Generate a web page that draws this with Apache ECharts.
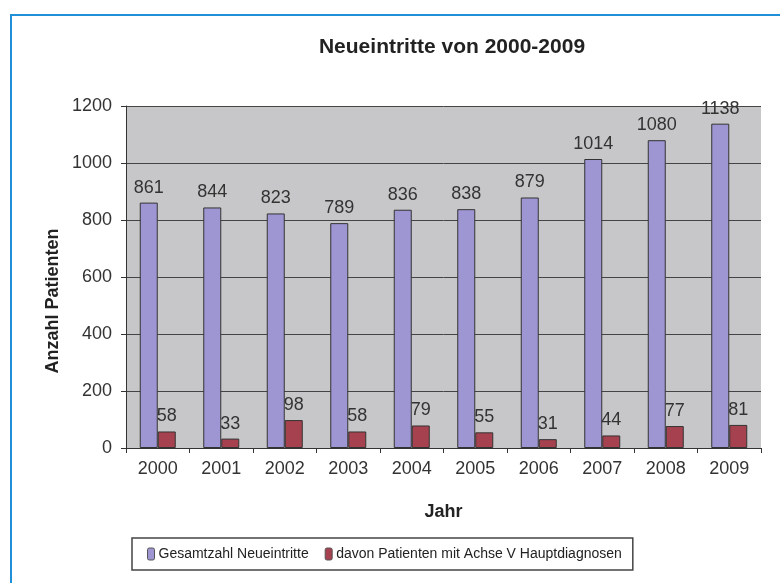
<!DOCTYPE html>
<html>
<head>
<meta charset="utf-8">
<script src="https://cdn.jsdelivr.net/npm/echarts@6/dist/echarts.min.js"></script>
<style>
  html, body { margin: 0; padding: 0; background: #fff; }
  #frame {
    position: absolute; left: 10px; top: 14px; width: 780px; height: 600px;
    border-top: 2px solid #1f8fd8; border-left: 2px solid #1f8fd8;
  }
  #chart { position: absolute; left: 0; top: 0; width: 780px; height: 583px; }
</style>
</head>
<body>
<div id="frame"></div>
<div id="chart"></div>
<script>
var years = ['2000', '2001', '2002', '2003', '2004', '2005', '2006', '2007', '2008', '2009'];
var gesamt = [861, 844, 823, 789, 836, 838, 879, 1014, 1080, 1138];
var achseV = [58, 33, 98, 58, 79, 55, 31, 44, 77, 81];
var yTicks = [0, 200, 400, 600, 800, 1000, 1200];

var chart = echarts.init(document.getElementById('chart'));
var font = 'Liberation Sans, Arial, sans-serif';

var option = {
  animation: false,
  textStyle: { fontFamily: font },
  title: {
    text: 'Neueintritte von 2000-2009',
    left: 447,
    textAlign: 'center',
    top: 32,
    textStyle: { fontSize: 21, fontWeight: 'bold', color: '#222', fontFamily: font }
  },
  grid: { left: 126, right: 19, top: 106, bottom: 135, show: true, backgroundColor: '#c7c7c9', borderWidth: 0 },
  legend: {
    left: 132, top: 538,
    padding: [9, 11, 9, 15],
    itemWidth: 7, itemHeight: 12, itemGap: 16,
    borderColor: '#444', borderWidth: 1.5,
    itemStyle: { borderColor: '#555', borderWidth: 1 },
    textStyle: { fontSize: 14, color: '#222', fontFamily: font, padding: [0, 0, 0, -1] },
    data: ['Gesamtzahl Neueintritte', 'davon Patienten mit Achse V Hauptdiagnosen']
  },
  xAxis: {
    type: 'category',
    data: years,
    name: 'Jahr',
    nameLocation: 'middle',
    nameGap: 55,
    nameTextStyle: { fontSize: 18, fontWeight: 'bold', color: '#222' },
    axisLine: { lineStyle: { color: '#333', width: 1 } },
    axisTick: { show: true, length: 5, lineStyle: { color: '#333' } },
    axisLabel: { fontSize: 18, color: '#333', margin: 12 }
  },
  yAxis: {
    type: 'value',
    min: yTicks[0], max: yTicks[yTicks.length - 1], interval: 200,
    axisLine: { show: true, lineStyle: { color: '#333', width: 1 } },
    axisTick: { show: true, length: 5, lineStyle: { color: '#333' } },
    axisLabel: { fontSize: 18, color: '#333', margin: 14, formatter: function (v) { return String(v); } },
    splitLine: { lineStyle: { color: '#444', width: 1 } }
  },
  graphic: [{
    type: 'text',
    x: 53, y: 301,
    rotation: Math.PI / 2,
    style: {
      text: 'Anzahl Patienten',
      font: 'bold 18px ' + font,
      fill: '#222',
      textAlign: 'center',
      textVerticalAlign: 'middle'
    }
  }],
  series: [
    {
      name: 'Gesamtzahl Neueintritte',
      type: 'bar',
      data: gesamt,
      barWidth: 18,
      barGap: '0%',
      itemStyle: { color: '#9d96d2', borderColor: '#333', borderWidth: 1 },
      label: { show: true, position: 'top', distance: 6, fontSize: 18, color: '#333' }
    },
    {
      name: 'davon Patienten mit Achse V Hauptdiagnosen',
      type: 'bar',
      data: achseV,
      barWidth: 18,
      itemStyle: { color: '#a6414f', borderColor: '#333', borderWidth: 1 },
      label: { show: true, position: 'top', distance: 6, fontSize: 18, color: '#333' }
    }
  ]
};

chart.setOption(option);
</script>
</body>
</html>
